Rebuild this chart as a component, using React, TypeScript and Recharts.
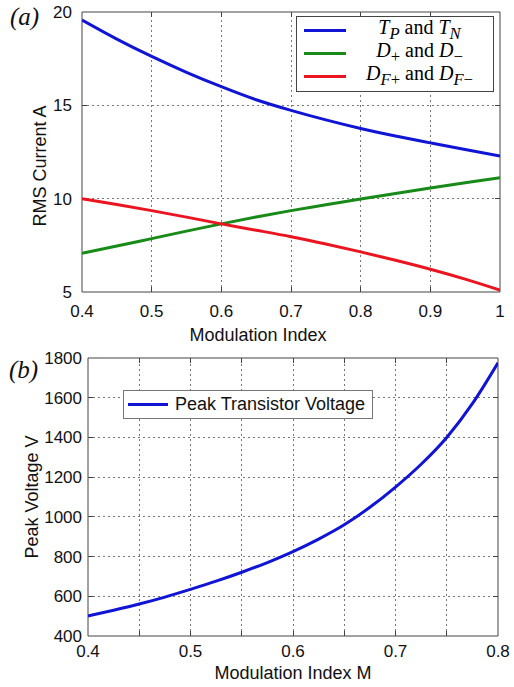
import React from "react";
import { LineChart, Line, XAxis, YAxis, Legend, ReferenceLine, ReferenceArea } from "recharts";

// (a) RMS currents vs modulation index
const modIndexA = [0.4, 0.45, 0.5, 0.55, 0.6, 0.65, 0.7, 0.75, 0.8, 0.85, 0.9, 0.95, 1.0];
const rmsTransistor = [19.57, 18.55, 17.62, 16.77, 16.0, 15.3, 14.73, 14.22, 13.76, 13.36, 12.99, 12.63, 12.29];
const rmsDiode = [7.07, 7.46, 7.86, 8.26, 8.65, 9.02, 9.36, 9.67, 9.98, 10.28, 10.57, 10.85, 11.12];
const rmsFreewheel = [10.0, 9.69, 9.36, 9.01, 8.65, 8.31, 7.96, 7.57, 7.15, 6.7, 6.22, 5.69, 5.1];
const xTicksA = [0.4, 0.5, 0.6, 0.7, 0.8, 0.9, 1];
const yTicksA = [5, 10, 15, 20];

// (b) peak transistor voltage vs modulation index
const modIndexB = [0.4, 0.425, 0.45, 0.475, 0.5, 0.525, 0.55, 0.575, 0.6, 0.625, 0.65, 0.675, 0.7, 0.725, 0.75, 0.775, 0.8];
const peakVoltage = [501, 530, 561, 596, 635, 676, 721, 770, 825, 888, 960, 1048, 1150, 1265, 1400, 1570, 1776];
const xTicksB = [0.4, 0.45, 0.5, 0.55, 0.6, 0.65, 0.7, 0.75, 0.8];
const yTicksB = [400, 600, 800, 1000, 1200, 1400, 1600, 1800];

const dataA = modIndexA.map((m, i) => ({
  m,
  tp: rmsTransistor[i],
  d: rmsDiode[i],
  df: rmsFreewheel[i],
}));
const dataB = modIndexB.map((m, i) => ({ m, v: peakVoltage[i] }));

const SANS = "'Liberation Sans', Arial, Helvetica, sans-serif";
const SERIF = "'Liberation Serif', 'Times New Roman', serif";
const FRAME = "#444";
const GRID = "#777";
const tickStyle = { fill: "#111", fontSize: 17, fontFamily: SANS };

const BLUE = "#1014d4";
const GREEN = "#178a17";
const RED = "#ea1520";

const TICK_PX = 5;

// grid, box and inward tick marks, all placed through the chart scales
function frameAndGrid(
  xDom: [number, number],
  yDom: [number, number],
  xTicks: number[],
  yTicks: number[],
  plotW: number,
  plotH: number
) {
  const tx = ((xDom[1] - xDom[0]) * TICK_PX) / plotW;
  const ty = ((yDom[1] - yDom[0]) * TICK_PX) / plotH;
  const out: React.ReactNode[] = [];
  const grid = { stroke: GRID, strokeDasharray: "2 3", shapeRendering: "crispEdges" } as any;
  const tick = { stroke: FRAME, shapeRendering: "crispEdges" } as any;
  xTicks
    .filter((t) => t > xDom[0] && t < xDom[1])
    .forEach((t) => {
      out.push(<ReferenceLine key={`gx${t}`} x={t} {...grid} />);
      out.push(<ReferenceLine key={`tbx${t}`} segment={[{ x: t, y: yDom[0] }, { x: t, y: yDom[0] + ty }]} {...tick} />);
      out.push(<ReferenceLine key={`ttx${t}`} segment={[{ x: t, y: yDom[1] }, { x: t, y: yDom[1] - ty }]} {...tick} />);
    });
  yTicks
    .filter((t) => t > yDom[0] && t < yDom[1])
    .forEach((t) => {
      out.push(<ReferenceLine key={`gy${t}`} y={t} {...grid} />);
      out.push(<ReferenceLine key={`tly${t}`} segment={[{ x: xDom[0], y: t }, { x: xDom[0] + tx, y: t }]} {...tick} />);
      out.push(<ReferenceLine key={`try${t}`} segment={[{ x: xDom[1], y: t }, { x: xDom[1] - tx, y: t }]} {...tick} />);
    });
  out.push(
    <ReferenceArea
      key="box"
      x1={xDom[0]}
      x2={xDom[1]}
      y1={yDom[0]}
      y2={yDom[1]}
      fill="none"
      fillOpacity={0}
      stroke={FRAME}
      strokeWidth={1}
      ifOverflow="visible"
    />
  );
  return out;
}

const legendOrderA = ["tp", "d", "df"];
const legendLabels: Record<string, React.ReactNode> = {
  tp: (
    <>
      <i>T</i><sub><i>P</i></sub> and <i>T</i><sub><i>N</i></sub>
    </>
  ),
  d: (
    <>
      <i>D</i><sub>+</sub> and <i>D</i><sub>−</sub>
    </>
  ),
  df: (
    <>
      <i>D</i><sub><i>F</i>+</sub> and <i>D</i><sub><i>F</i>−</sub>
    </>
  ),
};

function LegendA(props: any) {
  const payload = props.payload || [];
  const items = legendOrderA
    .map((k) => payload.find((p: any) => p.dataKey === k))
    .filter(Boolean);
  return (
    <div
      style={{
        border: `1px solid ${FRAME}`,
        background: "#fff",
        width: 196,
        height: 72,
        paddingTop: 2,
        boxSizing: "content-box",
      }}
    >
      {items.map((p: any) => (
        <div key={p.dataKey} style={{ display: "flex", alignItems: "center", height: 23 }}>
          <div style={{ width: 42, height: 3, background: p.color, marginLeft: 7 }} />
          <div
            style={{
              flex: 1,
              textAlign: "center",
              fontFamily: SERIF,
              fontSize: 20,
              lineHeight: "20px",
              color: "#000",
            }}
          >
            {legendLabels[p.dataKey]}
          </div>
        </div>
      ))}
    </div>
  );
}

function LegendB(props: any) {
  const payload = (props.payload || []).filter((p: any) => p.dataKey === "v");
  return (
    <div
      style={{
        border: `1px solid #777`,
        background: "#fff",
        width: 248,
        height: 27,
        display: "flex",
        alignItems: "center",
      }}
    >
      {payload.map((p: any) => (
        <React.Fragment key={p.dataKey}>
          <div style={{ width: 40, height: 3, background: p.color, marginLeft: 4 }} />
          <div style={{ marginLeft: 7, fontFamily: SANS, fontSize: 18, color: "#111" }}>{p.value}</div>
        </React.Fragment>
      ))}
    </div>
  );
}

const fmtA = (v: number) => String(v);
const fmtB = (v: number) => (Math.round(v * 100) % 10 === 0 ? String(v) : "");

export default function App() {
  return (
    <div style={{ position: "absolute", left: 0, top: 0, width: 514, height: 687, background: "#fff" }}>
      <div style={{ position: "absolute", left: 0, top: 0 }}>
        <LineChart width={514} height={345} data={dataA} margin={{ top: 12, right: 14, bottom: 23, left: 0 }}>
          <XAxis
            dataKey="m"
            type="number"
            domain={[0.4, 1]}
            ticks={xTicksA}
            interval={0}
            tickFormatter={fmtA}
            tickLine={false}
            axisLine={false}
            tickSize={0}
            tickMargin={13}
            tick={tickStyle}
            height={30}
            allowDataOverflow
            label={{
              content: () => (
                <text x={258} y={335} textAnchor="middle" dominantBaseline="central" fontFamily={SANS} fontSize={18} fill="#111">
                  Modulation Index
                </text>
              ),
            }}
          />
          <YAxis
            type="number"
            domain={[5, 20]}
            ticks={yTicksA}
            interval={0}
            tickLine={false}
            axisLine={false}
            tickSize={0}
            tickMargin={10}
            tick={tickStyle}
            width={82}
            allowDataOverflow
            label={{
              content: () => (
                <text
                  x={40}
                  y={166}
                  transform="rotate(-90 40 166)"
                  textAnchor="middle"
                  dominantBaseline="central"
                  fontFamily={SANS}
                  fontSize={18}
                  fill="#111"
                >
                  RMS Current A
                </text>
              ),
            }}
          />
          {frameAndGrid([0.4, 1], [5, 20], xTicksA, yTicksA, 418, 280)}
          <Line type="monotone" dataKey="tp" name="TP and TN" stroke={BLUE} strokeWidth={3} dot={false} isAnimationActive={false} />
          <Line type="monotone" dataKey="d" name="D+ and D-" stroke={GREEN} strokeWidth={3} dot={false} isAnimationActive={false} />
          <Line type="monotone" dataKey="df" name="DF+ and DF-" stroke={RED} strokeWidth={3} dot={false} isAnimationActive={false} />
          <Legend
            layout="horizontal"
            verticalAlign="middle"
            align="center"
            content={LegendA}
            wrapperStyle={{ left: 296, top: 16, width: 198, height: 76 }}
          />
        </LineChart>
        <div
          style={{
            position: "absolute",
            left: 10,
            top: 4,
            fontFamily: SERIF,
            fontStyle: "italic",
            fontSize: 25,
            lineHeight: "25px",
            color: "#111",
          }}
        >
          (a)
        </div>
      </div>

      <div style={{ position: "absolute", left: 0, top: 345 }}>
        <LineChart width={514} height={342} data={dataB} margin={{ top: 13, right: 16, bottom: 21, left: 0 }}>
          <XAxis
            dataKey="m"
            type="number"
            domain={[0.4, 0.8]}
            ticks={xTicksB}
            interval={0}
            tickFormatter={fmtB}
            tickLine={false}
            axisLine={false}
            tickSize={0}
            tickMargin={9}
            tick={tickStyle}
            height={30}
            allowDataOverflow
            label={{
              content: () => (
                <text x={293} y={328} textAnchor="middle" dominantBaseline="central" fontFamily={SANS} fontSize={18} fill="#111">
                  Modulation Index M
                </text>
              ),
            }}
          />
          <YAxis
            type="number"
            domain={[400, 1800]}
            ticks={yTicksB}
            interval={0}
            tickLine={false}
            axisLine={false}
            tickSize={0}
            tickMargin={6}
            tick={tickStyle}
            width={88}
            allowDataOverflow
            label={{
              content: () => (
                <text
                  x={32}
                  y={152}
                  transform="rotate(-90 32 152)"
                  textAnchor="middle"
                  dominantBaseline="central"
                  fontFamily={SANS}
                  fontSize={18}
                  fill="#111"
                >
                  Peak Voltage V
                </text>
              ),
            }}
          />
          {frameAndGrid([0.4, 0.8], [400, 1800], xTicksB, yTicksB, 410, 278)}
          <Line type="monotone" dataKey="v" name="Peak Transistor Voltage" stroke={BLUE} strokeWidth={3} dot={false} isAnimationActive={false} />
          <Legend
            layout="horizontal"
            verticalAlign="middle"
            align="center"
            content={LegendB}
            wrapperStyle={{ left: 123, top: 45, width: 250, height: 29 }}
          />
        </LineChart>
        <div
          style={{
            position: "absolute",
            left: 9,
            top: 12,
            fontFamily: SERIF,
            fontStyle: "italic",
            fontSize: 25,
            lineHeight: "25px",
            color: "#111",
          }}
        >
          (b)
        </div>
      </div>
    </div>
  );
}
